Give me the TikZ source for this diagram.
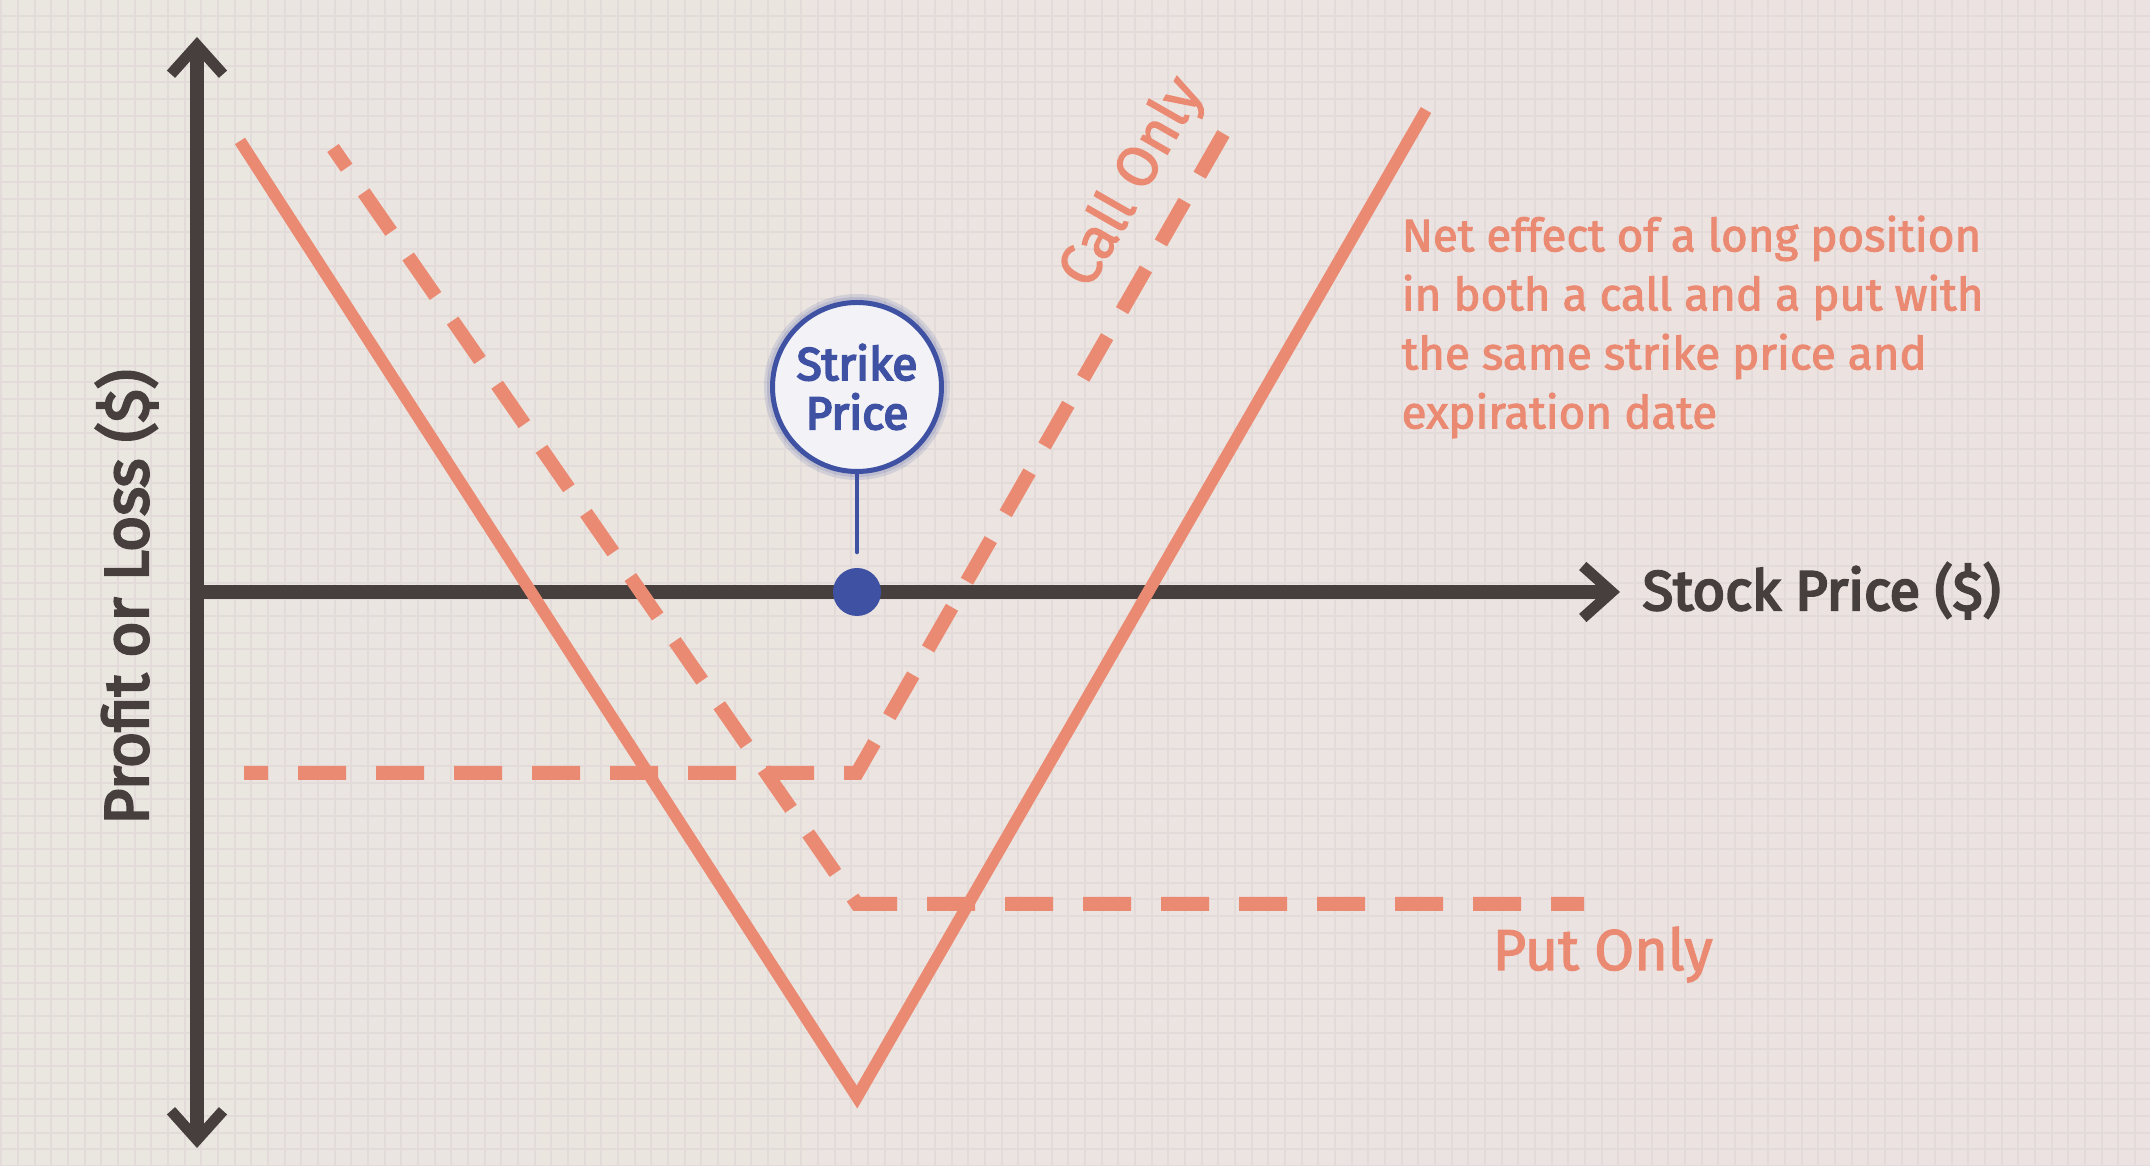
\documentclass[tikz,border=0pt]{standalone}
\usepackage{fontspec}
\setmainfont{Fira Sans}
\newfontfamily\notefont{Fira Sans}[FakeBold=2.2]
\newfontfamily\headfont{Fira Sans}[FakeBold=4]
\usetikzlibrary{arrows.meta}
\definecolor{paper-left}{HTML}{EAE6E0}
\definecolor{paper-right}{HTML}{ECE2E1}
\definecolor{grid-tone}{HTML}{E3DBD9}
\definecolor{axis-dark}{HTML}{463F3D}
\definecolor{salmon}{HTML}{EB8A72}
\definecolor{strike-blue}{HTML}{3F51A3}
\definecolor{bubble-fill}{HTML}{F3F3F7}
\tikzset{
    chevron/.tip = {Straight Barb[length=0.29cm, width=0.52cm, line width=0.11cm]},
    grid-line/.style = {draw=grid-tone, line width=0.02cm},
    axis-line/.style = {draw=axis-dark, line width=0.14cm},
    payoff-solid/.style = {draw=salmon, line width=0.12cm},
    payoff-dashed/.style = {draw=salmon, line width=0.14cm, dash pattern=on 0.48cm off 0.30cm, dash phase=0.24cm},
    strike-bubble/.style = {circle, draw=strike-blue, fill=bubble-fill, line width=0.05cm, minimum size=1.69cm, inner sep=0pt, align=center, text=strike-blue, font=\headfont\fontsize{13.1pt}{14pt}\selectfont},
    strike-glow/.style = {fill=strike-blue, opacity=0.14},
    strike-dot/.style = {circle, fill=strike-blue, minimum size=0.48cm, inner sep=0pt},
    strike-stem/.style = {draw=strike-blue, line width=0.04cm, line cap=round},
    axis-label/.style = {text=axis-dark, inner sep=0pt, font=\headfont\fontsize{15.9pt}{18pt}\selectfont},
    leg-label/.style = {text=salmon, inner sep=0pt, font=\notefont\fontsize{16.4pt}{19pt}\selectfont},
    note-text/.style = {text=salmon, inner sep=0pt, align=left, font=\notefont\fontsize{13pt}{16.8pt}\selectfont},
}
\begin{document}
\begin{tikzpicture}
\useasboundingbox (0,0) rectangle (21.5,11.66);
\shade[left color=paper-left, right color=paper-right] (0,0) rectangle (21.5,11.66);
\begin{scope}
\clip (0,0) rectangle (21.5,11.66);
\draw[grid-line, xshift=0.013cm] (0,0) grid[step=0.1667] (21.6,11.8);
\end{scope}

\draw[axis-line, {chevron}-{chevron}] (1.97,0.18) -- (1.97,11.29);
\draw[axis-line, -{chevron}] (1.97,5.74) -- (16.20,5.74);

\draw[payoff-solid] (2.40,10.25) -- (8.57,0.69) -- (14.26,10.56);
\draw[payoff-dashed] (3.33,10.18) -- (8.57,2.62) -- (15.84,2.62);
\draw[payoff-dashed] (2.44,3.93) -- (8.57,3.93) -- (12.37,10.56);

\fill[strike-glow] (8.57,7.79) circle (0.93cm);
\fill[strike-glow] (8.57,7.79) circle (0.90cm);
\node[strike-bubble] (strike) at (8.57,7.79) {Strike\\Price};
\node[strike-dot] (dot) at (8.57,5.74) {};
\draw[strike-stem] (strike.south) -- ([yshift=0.15cm]dot.north);

\node[axis-label, anchor=base west] (x-label) at (16.42,5.56) {Stock Price (\$)};
\node[axis-label, rotate=90, anchor=base, font=\headfont\fontsize{17.6pt}{20pt}\selectfont] (y-label) at (1.48,5.69) {Profit or Loss (\$)};
\node[leg-label, rotate=60.2] (call-label) at (11.33,9.83) {Call Only};
\node[leg-label, anchor=base west] (put-label) at (14.92,1.96) {Put Only};
\node[note-text, anchor=north west] (note) at (14.01,9.51) {Net effect of a long position\\in both a call and a put with\\the same strike price and\\expiration date};
\end{tikzpicture}
\end{document}
